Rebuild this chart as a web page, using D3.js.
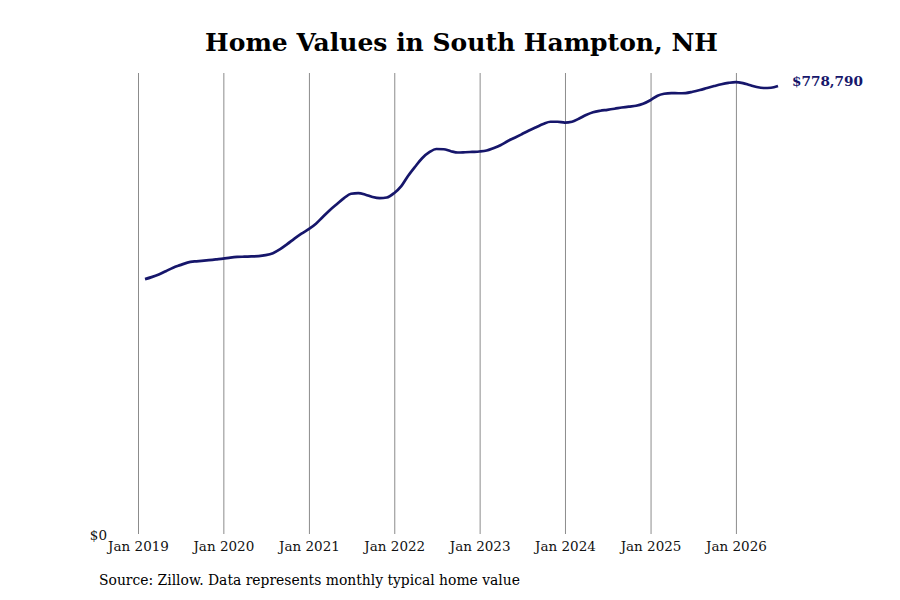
<!DOCTYPE html>
<html>
<head>
<meta charset="utf-8">
<script src="https://cdn.jsdelivr.net/npm/d3@7"></script>
<style>
  body { margin: 0; background: #fff; }
  svg { font-family: 'DejaVu Serif', serif; }
</style>
</head>
<body>
<svg width="900" height="600"></svg>
<script>
/* global d3 */
// monthly typical home value, Jan 2019 .. Jun 2026 (month-end)
var values2019 = [442900, 446400, 451100, 456800, 462900, 467300, 471600, 473700, 474700, 475900, 477200, 478500]
var values2020 = [480300, 481500, 482000, 482400, 482900, 484600, 488100, 495000, 503700, 513300, 522000, 529800]
var values2021 = [539300, 550600, 562800, 573200, 583600, 591400, 592300, 589700, 585700, 583600, 584800, 592300]
var values2022 = [604500, 621800, 638300, 653100, 663500, 669100, 668700, 665300, 663000, 663500, 664100, 664800]
var values2023 = [666500, 670500, 675700, 682600, 688700, 694800, 701200, 707000, 712500, 716500, 716500, 715100]
var values2024 = [716500, 721700, 728200, 733000, 735600, 737200, 739100, 741200, 742900, 744300, 747800, 753900]
var values2025 = [761700, 765100, 766400, 766000, 766400, 768600, 771600, 775200, 778500, 781700, 784100, 785500]
var values2026 = [783700, 780400, 776800, 775100, 775600, 778790]

var tickYears = [2019, 2020, 2021, 2022, 2023, 2024, 2025, 2026]
var titleText = 'Home Values in South Hampton, NH'
var sourceText = 'Source: Zillow. Data represents monthly typical home value'

var allValues = [].concat(values2019, values2020, values2021, values2022,
    values2023, values2024, values2025, values2026)
var data = allValues.map(function(v, i) {
    // last day of each month
    return { date: new Date(2019, i + 1, 0), value: v }
})

var svg = d3.select('svg')
var margin = { top: 73, bottom: 66, left: 138, right: 122 }
var width = +svg.attr('width')
var height = +svg.attr('height')
var navy = '#16166b'

var xScale = d3.scaleTime()
    .domain([new Date(2019, 0, 1), data[data.length - 1].date])
    .range([margin.left, width - margin.right])
var yScale = d3.scaleLinear()
    .domain([0, d3.max(data, (d) => d.value) * 1.02])
    .range([height - margin.bottom, margin.top])

// vertical grid lines per year
var xAxis = d3.axisBottom(xScale)
    .tickValues(tickYears.map((y) => new Date(y, 0, 1)))
    .tickFormat(d3.timeFormat('Jan %Y'))
    .tickSize(-(height - margin.bottom - margin.top))
    .tickPadding(7)

var gx = svg.append('g')
    .attr('transform', 'translate(0,' + (height - margin.bottom) + ')')
    .call(xAxis)
gx.select('.domain').remove()
gx.selectAll('.tick line').attr('stroke', '#8c8c8c').attr('stroke-width', 1)
gx.selectAll('.tick text')
    .attr('fill', '#111')
    .style('font-family', "'DejaVu Serif', serif")
    .style('font-size', '13.5px')

svg.append('text')
    .attr('x', margin.left - 31)
    .attr('y', yScale(0))
    .attr('dy', '0.45em')
    .attr('text-anchor', 'end')
    .attr('fill', '#111')
    .style('font-size', '13.5px')
    .text('$0')

var line = d3.line()
    .x((d) => xScale(d.date))
    .y((d) => yScale(d.value))
    .curve(d3.curveMonotoneX)

svg.append('path')
    .datum(data)
    .attr('fill', 'none')
    .attr('stroke', navy)
    .attr('stroke-width', 2.7)
    .attr('d', line)

var last = data[data.length - 1]
svg.append('text')
    .attr('x', xScale(last.date) + 14)
    .attr('y', yScale(last.value))
    .attr('fill', navy)
    .style('font-size', '13.6px')
    .style('font-weight', 'bold')
    .text(d3.format('$,')(last.value))

svg.append('text')
    .attr('x', 461.5)
    .attr('y', 51)
    .attr('text-anchor', 'middle')
    .attr('fill', '#000')
    .style('font-size', '25px')
    .style('font-weight', 'bold')
    .text(titleText)

svg.append('text')
    .attr('x', 99)
    .attr('y', 585)
    .attr('fill', '#000')
    .style('font-size', '13.9px')
    .text(sourceText)
</script>
</body>
</html>
